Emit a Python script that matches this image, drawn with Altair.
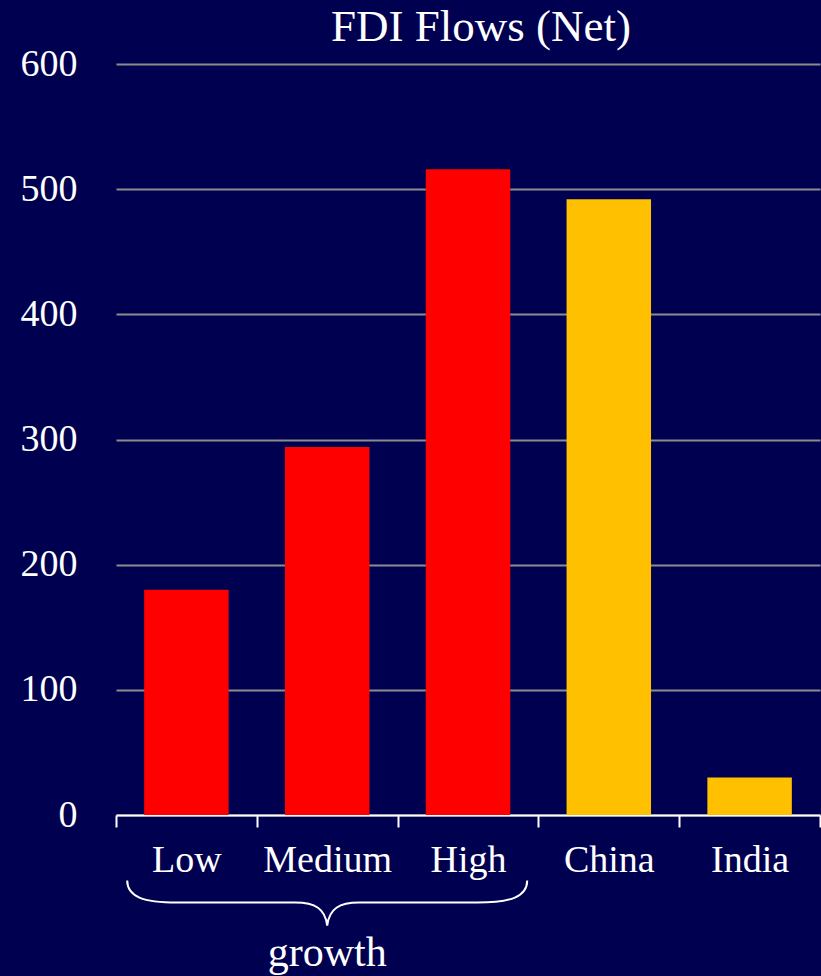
import altair as alt
import pandas as pd

# Net FDI flows by growth group and for two countries
categories = ["Low", "Medium", "High", "China", "India"]
values = [180, 294, 516, 492, 30]
groups = ["growth", "growth", "growth", "country", "country"]

y_ticks = [0, 100, 200, 300, 400, 500, 600]
group_names = ["growth", "country"]
group_colors = ["#FF0000", "#FFC000"]

bg = "#000050"
font = "Liberation Serif"

df = pd.DataFrame({"category": categories, "value": values, "group": groups})

x_enc = alt.X(
    "category:N",
    sort=categories,
    scale=alt.Scale(paddingInner=0, paddingOuter=0),
    axis=alt.Axis(
        title=None,
        labelAngle=0,
        tickBand="extent",
        domainColor="white",
        domainWidth=2,
        tickColor="white",
        tickWidth=2,
        tickSize=12,
        labelFont=font,
        labelFontSize=38,
        labelColor="white",
        labelPadding=14,
        grid=False,
    ),
)

y_enc = alt.Y(
    "value:Q",
    scale=alt.Scale(domain=[0, 600], nice=False),
    axis=alt.Axis(
        title=None,
        values=y_ticks,
        ticks=False,
        domain=False,
        grid=True,
        gridColor="#8c8c8c",
        gridWidth=2,
        labelFont=font,
        labelFontSize=38,
        labelColor="white",
        labelPadding=39,
    ),
)

bars = (
    alt.Chart(df)
    .mark_bar(width=alt.RelativeBandSize(0.6))
    .encode(
        x=x_enc,
        y=y_enc,
        color=alt.Color(
            "group:N",
            scale=alt.Scale(domain=group_names, range=group_colors),
            legend=None,
        ),
    )
)

# Brace grouping Low / Medium / High, with its caption beneath
brace_path = (
    "M -1 -0.11 C -1 -0.03 -0.92 0 -0.75 0 L -0.16 0 "
    "C -0.06 0 -0.01 0.03 0 0.115 "
    "C 0.01 0.03 0.06 0 0.16 0 L 0.75 0 "
    "C 0.92 0 1 -0.03 1 -0.11"
)
ann = pd.DataFrame({"category": ["Medium"], "label": ["growth"]})

brace = (
    alt.Chart(ann)
    .mark_point(shape=brace_path, size=160000, filled=False, stroke="white", strokeWidth=2, opacity=1)
    .encode(
        x=x_enc,
        y=alt.Y(datum=-70),
    )
)

caption = (
    alt.Chart(ann)
    .mark_text(font=font, fontSize=42, color="white", baseline="middle", align="center")
    .encode(
        x=x_enc,
        y=alt.Y(datum=-110),
        text="label:N",
    )
)

chart = (
    alt.layer(bars, brace, caption)
    .properties(
        width=704,
        height=751,
        background=bg,
        padding={"left": 116, "top": 64, "right": 1, "bottom": 161},
        autosize=alt.AutoSizeParams(type="none"),
        title=alt.TitleParams(
            "FDI Flows (Net)",
            font=font,
            fontSize=45,
            fontWeight="normal",
            color="white",
            anchor="middle",
            dx=13,
            offset=-5,
        ),
    )
    .configure_view(stroke=None)
)

chart.save("out.html", embed_options={"renderer": "svg", "actions": False})
